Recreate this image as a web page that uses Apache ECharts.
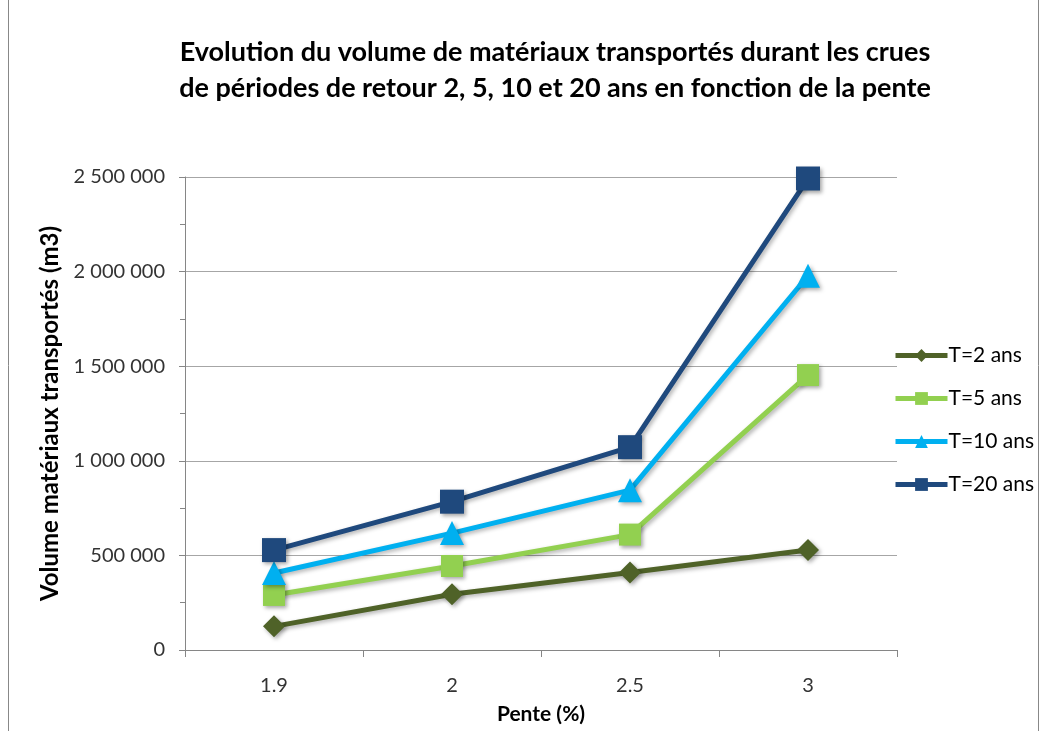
<!DOCTYPE html>
<html><head><meta charset="utf-8">
<script src="https://cdn.jsdelivr.net/npm/echarts@6/dist/echarts.min.js"></script>
<style>html,body{margin:0;padding:0;background:#fff}#c{width:1043px;height:731px}</style>
</head><body><div id="c"></div>
<script>
const categories = ['1.9', '2', '2.5', '3'];
const seriesNames = ['T=2 ans', 'T=5 ans', 'T=10 ans', 'T=20 ans'];
const t2 = [125000, 295000, 410000, 528000];
const t5 = [291000, 444000, 610000, 1453000];
const t10 = [407000, 618000, 845000, 1978000];
const t20 = [528000, 784000, 1072000, 2492000];
const colors = ['#4F6228', '#92D050', '#00B0F0', '#1F497D'];
const symbols = ['diamond', 'rect', 'triangle', 'rect'];
const symbolSizes = [22, 22, 24, 24];
const allData = [t2, t5, t10, t20];

const font = 'Lato, "Open Sans", sans-serif';
const shadow = { shadowColor: 'rgba(0,0,0,0.3)', shadowBlur: 4, shadowOffsetX: 2, shadowOffsetY: 2 };
const chart = echarts.init(document.getElementById('c'));
chart.setOption({
  animation: false,
  title: {
    text: 'Evolution du volume de matériaux transportés durant les crues\nde périodes de retour 2, 5, 10 et 20 ans en fonction de la pente',
    left: 550, top: 29, textAlign: 'center',
    textStyle: { fontFamily: font, fontWeight: 'bold', fontSize: 27, lineHeight: 36, color: '#000' }
  },
  graphic: [{ type: 'rect', shape: { x: 8.5, y: -2, width: 1030, height: 740 }, style: { fill: 'none', stroke: '#888', lineWidth: 1 } }],
  legend: {
    orient: 'vertical', left: 888, top: 340, itemGap: 22, itemWidth: 52, itemHeight: 16,
    textStyle: { fontFamily: font, fontSize: 21, color: '#000', padding: [0,0,0,-4] },
    data: seriesNames.map((n, i) => ({
      name: n,
      lineStyle: { width: 5, color: colors[i] },
      itemStyle: { color: colors[i], shadowBlur: 0, shadowOffsetX: 0, shadowOffsetY: 0 }
    }))
  },
  grid: { left: 185, right: 146, top: 177, bottom: 81 },
  xAxis: {
    type: 'category', data: categories, boundaryGap: true,
    name: 'Pente (%)', nameLocation: 'middle', nameGap: 54,
    nameTextStyle: { fontFamily: font, fontWeight: 'bold', fontSize: 21, color: '#000' },
    axisLine: { lineStyle: { color: '#868686' } },
    axisTick: { show: true, length: 7, lineStyle: { color: '#868686' } },
    axisLabel: { fontFamily: font, fontSize: 20, color: '#333', margin: 26 }
  },
  yAxis: {
    type: 'value', min: 0, max: 2500000, interval: 500000,
    name: 'Volume matériaux transportés (m3)', nameLocation: 'middle', nameGap: 120, nameRotate: 90,
    nameTextStyle: { fontFamily: font, fontWeight: 'bold', fontSize: 24, color: '#000' },
    axisLine: { show: true, lineStyle: { color: '#868686' } },
    axisTick: { show: true, length: 6, lineStyle: { color: '#868686' } },
    minorTick: { show: true, splitNumber: 2, length: 5, lineStyle: { color: '#868686' } },
    splitLine: { lineStyle: { color: '#A6A6A6' } },
    axisLabel: {
      fontFamily: font, fontSize: 20, color: '#333', margin: 20,
      formatter: v => String(v).replace(/\B(?=(\d{3})+(?!\d))/g, ' ')
    }
  },
  series: allData.map((d, i) => ({
    name: seriesNames[i], type: 'line', data: d,
    symbol: symbols[i], symbolSize: symbolSizes[i],
    lineStyle: { width: 5, color: colors[i], ...shadow },
    itemStyle: { color: colors[i], borderWidth: 0, shadowColor: 'rgba(0,0,0,0.35)', shadowBlur: 4, shadowOffsetX: 2, shadowOffsetY: 2 },
    z: 2 + i
  }))
});
</script></body></html>
